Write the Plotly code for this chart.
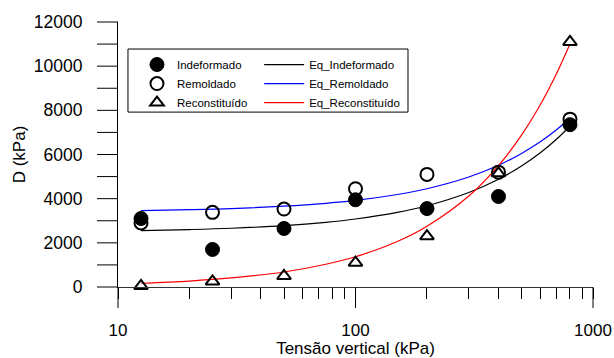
import math
import plotly.graph_objects as go

# Data
sigma = [12.5, 25, 50, 100, 200, 400, 800]
d_indeformado = [3100, 1700, 2650, 3950, 3550, 4100, 7350]
d_remoldado = [2900, 3380, 3530, 4450, 5100, 5200, 7600]
d_reconstituido = [50, 250, 500, 1100, 2300, 5150, 11100]

# Fitted curves
sigma_eq = [12.5, 20, 30, 50, 75, 100, 150, 200, 300, 400, 500, 600, 700, 800]
eq_indeformado = [2550, 2600, 2660, 2780, 2930, 3080, 3380, 3680, 4280, 4880, 5480, 6080, 6680, 7280]
eq_remoldado = [3460, 3500, 3550, 3660, 3790, 3920, 4190, 4450, 4980, 5510, 6050, 6580, 7110, 7640]
eq_reconstituido = [170, 270, 410, 680, 1030, 1370, 2060, 2750, 4120, 5500, 6880, 8250, 9630, 11000]

# Axes
x_range = [10, 1000]
y_range = [0, 12000]
x_ticks = [10, 100, 1000]
x_tick_text = ["10", "100", "1000"]
y_ticks = [0, 2000, 4000, 6000, 8000, 10000, 12000]
y_tick_text = ["0", "2000", "4000", "6000", "8000", "10000", "12000"]
y_tick_marks = [0, 1000, 2000, 3000, 4000, 5000, 6000, 7000, 8000, 9000, 10000, 11000, 12000]

FONT = "Liberation Sans, Arial, sans-serif"
W, H = 614, 358
M_L, M_R, M_T, M_B = 118, 21, 22, 71
PLOT_W = W - M_L - M_R
PLOT_H = H - M_T - M_B
TICK_LEN = 21

fig = go.Figure()

# curves (drawn first, beneath markers)
fig.add_trace(go.Scatter(x=sigma_eq, y=eq_indeformado, mode="lines", name="Eq_Indeformado",
                         line=dict(color="#000000", width=1.2, shape="spline"),
                         legend="legend2", legendrank=1))
fig.add_trace(go.Scatter(x=sigma_eq, y=eq_remoldado, mode="lines", name="Eq_Remoldado",
                         line=dict(color="#0000ff", width=1.2, shape="spline"),
                         legend="legend2", legendrank=2))
fig.add_trace(go.Scatter(x=sigma_eq, y=eq_reconstituido, mode="lines", name="Eq_Reconstituído",
                         line=dict(color="#ff0000", width=1.2, shape="spline"),
                         legend="legend2", legendrank=3))

# markers
fig.add_trace(go.Scatter(x=sigma, y=d_indeformado, mode="markers", name="Indeformado",
                         marker=dict(symbol="circle", size=14, color="#000000",
                                     line=dict(color="#000000", width=1)),
                         cliponaxis=False, legendrank=1))
fig.add_trace(go.Scatter(x=sigma, y=d_remoldado, mode="markers", name="Remoldado",
                         marker=dict(symbol="circle-open", size=13, color="#000000",
                                     line=dict(color="#000000", width=2)),
                         cliponaxis=False, legendrank=2))
fig.add_trace(go.Scatter(x=sigma, y=d_reconstituido, mode="markers", name="Reconstituído",
                         marker=dict(symbol="triangle-up-open", size=12, color="#000000",
                                     line=dict(color="#000000", width=2)),
                         cliponaxis=False, legendrank=3))

# long tick marks (drawn as shapes in axis-fraction space)
shapes = []
lx0, lx1 = math.log10(x_range[0]), math.log10(x_range[1])
for v in y_tick_marks:
    f = (v - y_range[0]) / (y_range[1] - y_range[0])
    shapes.append(dict(type="line", xref="paper", yref="paper",
                       x0=-TICK_LEN / PLOT_W, x1=0, y0=f, y1=f,
                       line=dict(color="#000000", width=1), layer="above"))
for v in x_ticks:
    f = (math.log10(v) - lx0) / (lx1 - lx0)
    shapes.append(dict(type="line", xref="paper", yref="paper",
                       x0=f, x1=f, y0=0, y1=-TICK_LEN / PLOT_H,
                       line=dict(color="#000000", width=1), layer="above"))
# legend frame
shapes.append(dict(type="rect", xref="paper", yref="paper",
                   x0=0.021, x1=0.6105, y0=0.660, y1=0.898,
                   line=dict(color="#000000", width=1), fillcolor="white", layer="above"))

fig.update_layout(
    template="none",
    width=W, height=H,
    margin=dict(l=M_L, r=M_R, t=M_T, b=M_B, autoexpand=False),
    paper_bgcolor="white", plot_bgcolor="white",
    font=dict(family=FONT, color="#000000", size=17),
    showlegend=True,
    shapes=shapes,
    legend=dict(x=0.021, y=0.898, xanchor="left", yanchor="top",
                bgcolor="rgba(0,0,0,0)", bordercolor="rgba(0,0,0,0)", borderwidth=1,
                font=dict(family=FONT, size=11.5, color="#000000"),
                indentation=8, orientation="v"),
    legend2=dict(x=0.295, y=0.898, xanchor="left", yanchor="top",
                 bgcolor="rgba(0,0,0,0)", bordercolor="rgba(0,0,0,0)", borderwidth=1,
                 font=dict(family=FONT, size=11.5, color="#000000"),
                 itemwidth=40, orientation="v"),
    xaxis=dict(type="log", range=[lx0, lx1], tickmode="array", tickvals=x_ticks, ticktext=x_tick_text,
               ticks="outside", ticklen=TICK_LEN, tickwidth=1, tickcolor="rgba(0,0,0,0)",
               ticklabelstandoff=7,
               showline=True, linecolor="#333333", linewidth=1,
               showgrid=False, zeroline=False, automargin=False,
               tickfont=dict(size=17),
               minor=dict(ticks="outside", ticklen=11, tickwidth=1, tickcolor="#000000",
                          dtick="D1", showgrid=False),
               title=dict(text="Tensão vertical (kPa)", font=dict(size=17), standoff=4)),
    yaxis=dict(range=y_range, tickmode="array", tickvals=y_ticks, ticktext=y_tick_text,
               ticks="outside", ticklen=TICK_LEN, tickwidth=1, tickcolor="rgba(0,0,0,0)",
               ticklabelstandoff=10,
               showline=True, linecolor="#000000", linewidth=1,
               showgrid=False, zeroline=False, automargin=False,
               tickfont=dict(size=17.5),
               title=dict(text="D (kPa)", font=dict(size=17), standoff=3)),
)

fig.write_html("out.html", config={"displayModeBar": False},
               post_script="document.body.style.margin='0';document.body.style.padding='0';")
